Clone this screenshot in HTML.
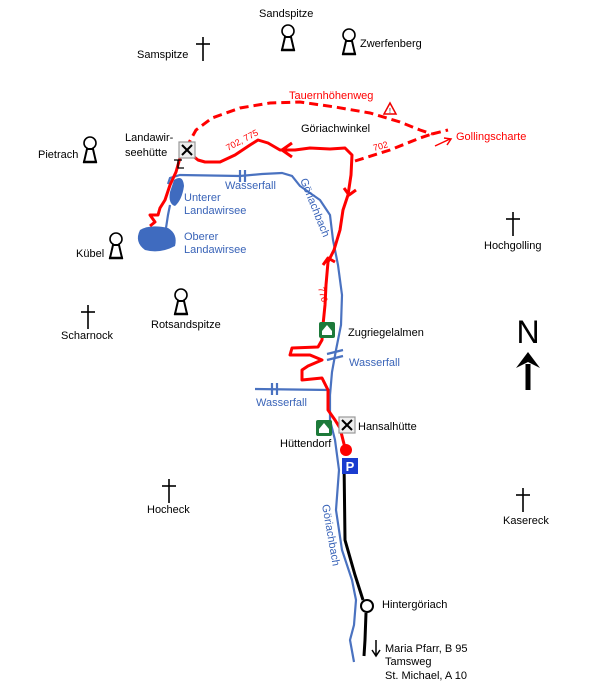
<!DOCTYPE html>
<html><head><meta charset="utf-8"><style>
html,body{margin:0;padding:0;background:#fff;}
svg{display:block;font-family:"Liberation Sans",Arial,sans-serif;}
</style></head><body>
<svg width="600" height="689" viewBox="0 0 600 689" xmlns="http://www.w3.org/2000/svg">
<defs>
<g id="pk"><circle cx="0" cy="-7" r="6" fill="#fff" stroke="#000" stroke-width="1.6"/><path d="M-3,-1 L3,-1 L6,12 L-6,12 Z" fill="#fff" stroke="#000" stroke-width="2"/><line x1="-7" y1="12" x2="7" y2="12" stroke="#000" stroke-width="2.5"/></g>
<g id="cr"><line x1="0" y1="-10" x2="0" y2="14" stroke="#000" stroke-width="1.6"/><line x1="-7" y1="-3" x2="7" y2="-3" stroke="#000" stroke-width="1.6"/></g>
<g id="hut"><rect x="-8" y="-8" width="16" height="16" fill="#eee" stroke="#999" stroke-width="1.2"/><line x1="-5" y1="-5" x2="5" y2="5" stroke="#000" stroke-width="2"/><line x1="5" y1="-5" x2="-5" y2="5" stroke="#000" stroke-width="2"/></g>
<g id="alm"><rect x="-8" y="-8" width="16" height="16" rx="2" fill="#1d7a3a"/><path d="M-5,1 L0,-5 L5,1 L5,5 L-5,5Z" fill="#fff"/></g>
</defs>

<path d="M174,180 Q183,174 184,186 Q182,200 175,206 Q168,204 170,192 Z" fill="#3f6bbf"/>
<path d="M140,230 Q150,224 168,228 Q178,234 175,246 Q160,254 145,250 Q134,242 140,230 Z" fill="#3f6bbf"/>

<g fill="none" stroke="#4a72c0" stroke-width="2.2">
<path d="M168,184 L170,178 L180,175 L240,176 L262,174 L282,173 L292,176 L300,186 L320,200 L330,215 L333,240 L338,265 L342,295 L341,325 L336,350 L332,372 L330,395 L330,420 L335,440 L339,470 L336,510 L342,550 L352,580 L356,600 L354,625 L350,640 L354,662"/>
<path d="M170,205 L168,215 L166,228"/>
<path d="M255,389 L330,390"/>
<path d="M240,170 L240,182 M245,170 L245,182"/>
<path d="M272,383 L272,395 M277,383 L277,395"/>
<path d="M327,354 L343,350 M327,360 L343,356"/>
</g>

<g fill="none" stroke="#f00" stroke-width="3" stroke-linejoin="round">
<path d="M188,152 L198,160 L205,162 L220,162 L235,155 L250,145 L258,140 L268,143 L280,150 L295,150 L310,148 L330,149 L345,148 L352,155 L351,175 L348,195 L343,210 L340,230 L334,250 L328,262 L326,285 L325,305 L323,325 L322,340 L318,347 L292,348 L290,355 L310,355 L322,360 L308,366 L302,370 L302,380 L322,378 L328,390 L328,410 L335,420 L340,428 L345,448"/>
<path d="M180,158 L176,172 L170,185 L165,200 L160,208 L158,215 L150,215 L155,222 L150,226"/>
<path d="M292,143 L282,150 L292,157"/>
<path d="M344,188 L349,195 L356,190"/>
<path d="M323,265 L328,258 L335,262"/>
</g>
<path d="M174,160 L182,160 M178,160 L178,168 L184,168" stroke="#000" stroke-width="1.3" fill="none"/>
<circle cx="346" cy="450" r="6" fill="#f00"/>

<g fill="none" stroke="#f00" stroke-width="3" stroke-dasharray="9,5">
<path d="M186,148 L196,130 L212,118 L240,108 L270,103 L300,102 L335,107 L370,113 L400,122 L420,130 L432,134"/>
<path d="M355,161 L390,150 L420,138 L432,134"/>
<path d="M432,134 L448,130"/>
</g>
<path d="M435,146 L450,139 M444,138 L451,139 L447,145" fill="none" stroke="#f00" stroke-width="1.5"/>
<path d="M396,114 L384,114 L390,103 Z" fill="#fff" stroke="#e00" stroke-width="1.5"/>
<text x="390" y="113" font-size="7" fill="#000" text-anchor="middle">!</text>

<g fill="none" stroke="#000" stroke-width="3">
<path d="M344,460 L345,540 L355,575 L363,600"/>
<path d="M366,613 L365,640 L364,656"/>
</g>
<circle cx="367" cy="606" r="6" fill="#fff" stroke="#000" stroke-width="2"/>
<path d="M376,640 L376,655 M372,650 L376,656 L380,650" stroke="#000" stroke-width="1.5" fill="none"/>

<rect x="342" y="458" width="16" height="16" fill="#1a3ccf"/>
<text x="350" y="471" font-size="13" font-weight="bold" fill="#fff" text-anchor="middle">P</text>

<use href="#hut" x="187" y="150"/>
<use href="#hut" x="347" y="425"/>
<use href="#alm" x="327" y="330"/>
<use href="#alm" x="324" y="428"/>
<use href="#pk" x="288" y="38"/>
<use href="#pk" x="349" y="42"/>
<use href="#pk" x="90" y="150"/>
<use href="#pk" x="116" y="246"/>
<use href="#pk" x="181" y="302"/>
<use href="#cr" x="203" y="47"/>
<use href="#cr" x="88" y="315"/>
<use href="#cr" x="513" y="222"/>
<use href="#cr" x="169" y="489"/>
<use href="#cr" x="523" y="498"/>

<text x="528" y="343" font-size="32" fill="#000" text-anchor="middle">N</text>
<path d="M528,364 L528,390" stroke="#000" stroke-width="5"/>
<path d="M516,368 L528,352 L540,368 L528,362 Z" fill="#000"/>

<g font-size="11" fill="#000">
<text x="259" y="17">Sandspitze</text>
<text x="137" y="58">Samspitze</text>
<text x="360" y="47">Zwerfenberg</text>
<text x="125" y="141">Landawir-</text>
<text x="125" y="156">seehütte</text>
<text x="38" y="158">Pietrach</text>
<text x="76" y="257">Kübel</text>
<text x="61" y="339">Scharnock</text>
<text x="151" y="328">Rotsandspitze</text>
<text x="484" y="249">Hochgolling</text>
<text x="301" y="132">Göriachwinkel</text>
<text x="348" y="336">Zugriegelalmen</text>
<text x="358" y="430">Hansalhütte</text>
<text x="280" y="447">Hüttendorf</text>
<text x="147" y="513">Hocheck</text>
<text x="503" y="524">Kasereck</text>
<text x="382" y="608">Hintergöriach</text>
<text x="385" y="652">Maria Pfarr, B 95</text>
<text x="385" y="665">Tamsweg</text>
<text x="385" y="679">St. Michael, A 10</text>
</g>
<g font-size="11" fill="#f00">
<text x="289" y="99">Tauernhöhenweg</text>
<text x="456" y="140">Gollingscharte</text>
<text x="228" y="151" font-size="9" transform="rotate(-28 228 151)">702, 775</text>
<text x="374" y="151" font-size="9" transform="rotate(-15 374 151)">702</text>
<text x="318" y="288" font-size="9" transform="rotate(75 318 288)">776</text>
</g>
<g font-size="11" fill="#3a64b8">
<text x="225" y="189">Wasserfall</text>
<text x="184" y="201">Unterer</text>
<text x="184" y="214">Landawirsee</text>
<text x="184" y="240">Oberer</text>
<text x="184" y="253">Landawirsee</text>
<text x="349" y="366">Wasserfall</text>
<text x="256" y="406">Wasserfall</text>
<text x="300" y="180" transform="rotate(68 300 180)">Göriachbach</text>
<text x="322" y="505" transform="rotate(80 322 505)">Göriachbach</text>
</g>
</svg>
</body></html>
